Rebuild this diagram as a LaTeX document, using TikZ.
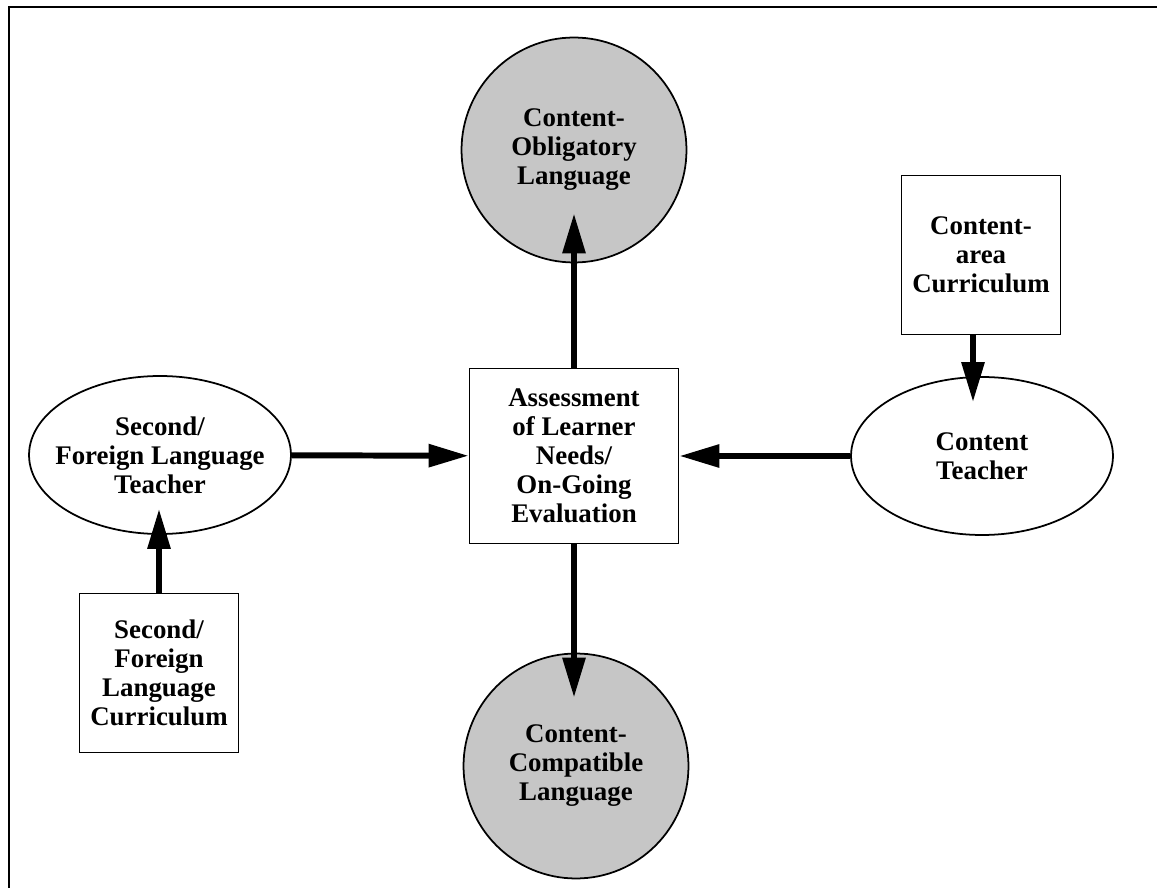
\documentclass[tikz,border=0pt]{standalone}
\usepackage{fontspec}
\setmainfont{Liberation Serif}
\usetikzlibrary{arrows.meta, shapes.geometric, positioning}
\tikzset{>={Triangle[length=0.8cm,width=0.44cm]}}
\tikzset{
  lbl/.style={align=center, font=\fontsize{15.3}{16.5}\selectfont\bfseries, line width=1pt, inner sep=2pt},
  sqbox/.style={lbl, draw, rectangle, minimum width=3.18cm, minimum height=3.18cm},
  lang/.style={lbl, draw, circle, fill=gray!45, minimum size=4.5cm},
  tchr/.style={lbl, draw, ellipse, minimum width=5.24cm, minimum height=3.16cm},
  arr/.style={->, line width=3.4pt}
}
\begin{document}
\begin{tikzpicture}[x=0.02cm, y=-0.02cm]
  \useasboundingbox (0,0) rectangle (1157,888);
  \draw [line width=1.3pt] (9,900) -- (9,7) -- (1170,7);
  % centre
  \node[lbl, draw, minimum width=4.18cm, minimum height=3.5cm] (assess) at (574,456)
    {Assessment\\of Learner\\Needs/\\On-Going\\Evaluation};
  \node[lang] (oblig) at (574,150) {Content-\\Obligatory\\Language};
  \node[lang] (compat) at (576,766) {Content-\\Compatible\\Language};
  % left
  \node[tchr] (slteach) at (160,455) {Second/\\\makebox[3cm]{Foreign Language}\\Teacher};
  \node[sqbox] (slcurr) at (159,673) {Second/\\Foreign\\Language\\Curriculum};
  % right
  \node[tchr] (cteach) at (982,456) {Content\\Teacher};
  \node[sqbox] (cacurr) at (981,255) {Content-\\area\\Curriculum};
  \coordinate (cadown) at ([xshift=-0.16cm]cacurr.south);
  % arrows
  \draw[arr, shorten >=-1cm] (assess) -- (oblig);
  \draw[arr, shorten >=-0.9cm] (assess.south) -- (assess.south |- compat.north);
  \draw[arr] (slteach) -- (assess);
  \draw[arr] (cteach) -- (assess);
  \draw[arr, shorten >=-0.52cm] (slcurr) -- (slcurr.north |- slteach.south);
  \draw[arr, shorten >=-0.52cm] (cadown) -- (cadown |- cteach.north);
\end{tikzpicture}
\end{document}
